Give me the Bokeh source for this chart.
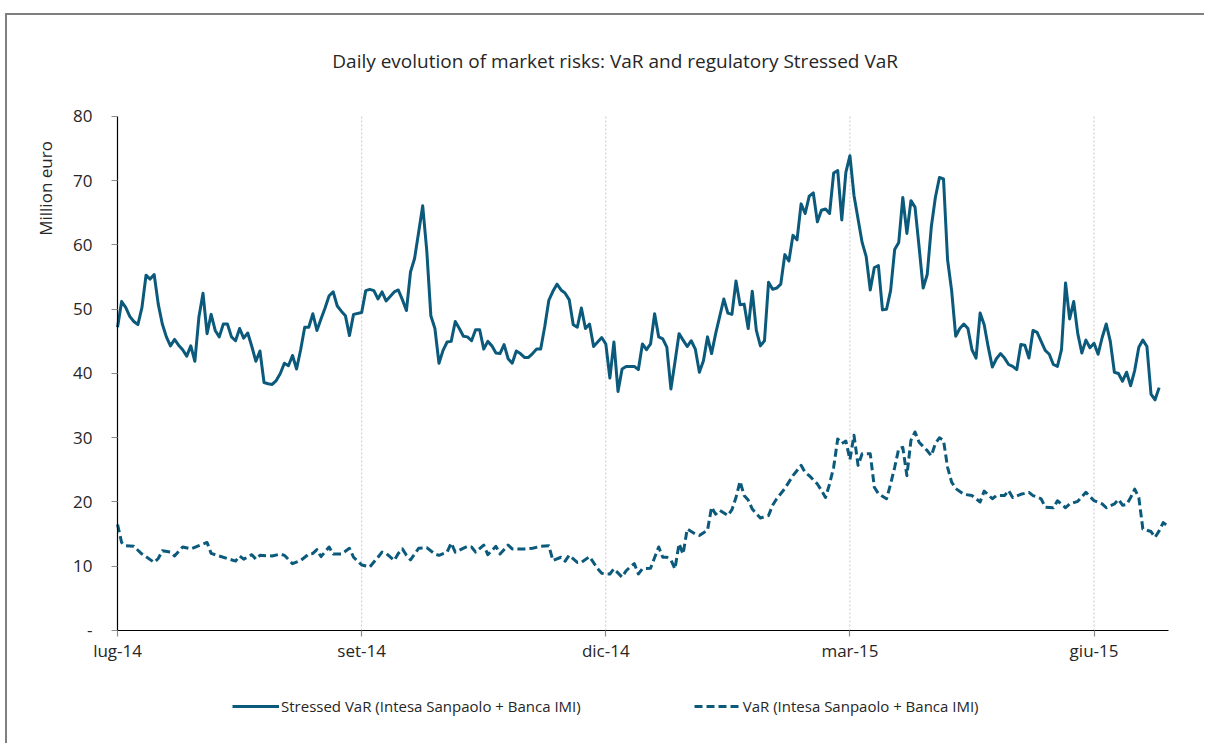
from math import pi
from bokeh.plotting import figure
from bokeh.models import FixedTicker, Legend, LegendItem, Label
from bokeh.embed import file_html
from bokeh.resources import INLINE

# ---- data (trading-day index, million euro) ----
stressed_day = (list(range(0, 59)) + list(range(60, 118)) +
                list(range(119, 182)) + list(range(183, 257)))
stressed_val = [
    47.2, 51.2, 50.3, 48.9, 48.1, 47.6, 50.3, 55.3, 54.7, 55.4,
    50.8, 47.7, 45.7, 44.3, 45.3, 44.4, 43.7, 42.7, 44.3, 41.9,
    48.8, 52.5, 46.2, 49.2, 46.7, 45.7, 47.7, 47.7, 45.7, 45.1,
    47.0, 45.5, 46.3, 44.2, 41.9, 43.5, 38.6, 38.4, 38.3, 38.9,
    40.0, 41.6, 41.2, 42.8, 40.7, 43.7, 47.2, 47.2, 49.3, 46.7,
    48.5, 50.2, 52.1, 52.7, 50.5, 49.7, 49.0, 45.9, 49.2,
    49.5, 52.9, 53.1, 52.9, 51.6, 52.7, 51.3, 52.0, 52.7, 53.0,
    51.5, 49.8, 55.8, 57.9, 62.0, 66.1, 59.1, 49.0, 47.0, 41.6,
    43.6, 44.9, 45.0, 48.1, 47.0, 45.8, 45.7, 45.1, 46.8, 46.8,
    43.8, 45.0, 44.3, 43.2, 43.1, 44.5, 42.3, 41.6, 43.5, 43.1,
    42.5, 42.5, 43.1, 43.8, 43.8, 47.3, 51.4, 52.8, 53.9, 53.0,
    52.5, 51.5, 47.6, 47.2, 50.2, 47.0, 47.7, 44.2,
    45.6, 44.6, 39.3, 44.9, 37.2, 40.7, 41.1, 41.1, 41.1, 40.6,
    44.6, 43.7, 44.6, 49.3, 45.7, 45.4, 44.1, 37.6, 41.8, 46.2,
    45.2, 44.2, 45.1, 43.8, 40.2, 42.0, 45.7, 43.1, 46.2, 48.9,
    51.6, 49.4, 49.2, 54.4, 50.7, 50.8, 47.0, 52.8, 46.7, 44.3,
    45.1, 54.2, 53.1, 53.3, 53.9, 58.5, 57.5, 61.5, 60.8, 66.4,
    64.9, 67.6, 68.1, 63.6, 65.4, 65.6, 64.9, 71.2, 71.6, 63.9,
    71.3, 73.9, 67.7,
    60.4, 58.2, 53.0, 56.5, 56.8, 49.9, 50.0, 52.9, 59.3, 60.4,
    67.4, 61.8, 66.9, 65.9, 59.7, 53.3, 55.4, 62.8, 67.4, 70.5,
    70.3, 57.7, 52.9, 45.8, 47.0, 47.7, 47.0, 43.7, 42.4, 49.4,
    47.6, 44.1, 41.0, 42.3, 43.1, 42.4, 41.4, 41.1, 40.6, 44.5,
    44.4, 42.4, 46.7, 46.4, 45.0, 43.6, 43.0, 41.4, 41.1, 43.7,
    54.1, 48.5, 51.2, 46.2, 43.2, 45.2, 44.0, 44.7, 43.0, 45.6,
    47.7, 45.0, 40.2, 40.0, 38.8, 40.2, 38.1, 40.5, 44.1, 45.2,
    44.2, 36.8, 35.9, 37.8,
]

var_day = [
    0, 1, 2, 4, 6, 9, 10, 11, 13, 14, 16, 18, 20, 22, 23, 25, 27, 29, 30, 31,
    33, 34, 35, 38, 40, 41, 43, 45, 47, 48, 49, 50, 52, 53, 55, 57, 58, 60, 62, 64,
    65, 66, 68, 69, 70, 71, 72, 73, 74, 76, 78, 79, 81, 82, 83, 84, 86, 87, 88, 90,
    91, 93, 94, 96, 97, 100, 102, 104, 106, 107, 109, 110, 111, 113, 114, 116, 118, 119, 120, 121,
    122, 124, 125, 126, 127, 128, 129, 131, 133, 134, 135, 136, 137, 138, 139, 140, 142, 143, 145, 146,
    147, 148, 150, 151, 152, 153, 154, 155, 156, 158, 160, 161, 162, 164, 166, 168, 169, 170, 172, 173,
    174, 175, 176, 177, 178, 179, 180, 181, 182, 183, 185, 186, 187, 189, 190, 191, 192, 193, 194, 195,
    196, 197, 199, 200, 201, 202, 203, 204, 205, 206, 208, 210, 212, 213, 215, 216, 218, 219, 220, 222,
    224, 225, 227, 228, 230, 231, 233, 234, 236, 238, 240, 242, 243, 245, 246, 247, 248, 249, 250, 251,
    252, 254, 255, 256, 257, 258,
]
var_val = [
    16.5, 13.7, 13.2, 13.1, 11.9, 10.6, 11.2, 12.4, 12.2, 11.6, 13.0, 12.7, 13.2, 13.7, 12.0, 11.6, 11.2, 10.8, 11.6, 11.1,
    11.8, 11.1, 11.7, 11.6, 11.9, 11.7, 10.4, 10.9, 11.9, 12.0, 12.6, 11.5, 13.0, 11.9, 11.9, 12.8, 11.4, 10.2, 9.9, 11.4,
    12.2, 12.0, 10.9, 12.0, 12.7, 11.7, 11.0, 11.9, 12.8, 12.9, 11.9, 11.7, 12.2, 13.6, 12.2, 12.5, 13.1, 13.0, 12.2, 13.3,
    11.8, 13.1, 11.9, 13.3, 12.7, 12.7, 12.8, 13.1, 13.2, 10.9, 11.4, 10.8, 11.7, 10.6, 10.6, 11.5, 9.6, 8.9, 8.8, 8.8,
    9.6, 8.3, 9.3, 9.9, 10.4, 8.8, 9.6, 9.7, 13.0, 11.4, 11.4, 11.0, 9.6, 13.5, 11.9, 15.8, 15.0, 14.8, 15.6, 19.2,
    18.1, 18.7, 17.9, 18.8, 20.7, 23.2, 21.0, 20.3, 18.9, 17.5, 17.9, 19.5, 20.5, 22.1, 24.1, 25.7, 24.6, 24.1, 22.8, 21.8,
    20.7, 22.8, 25.4, 29.8, 29.1, 29.5, 26.6, 30.4, 25.7, 27.5, 27.5, 22.3, 21.3, 20.5, 22.8, 25.4, 28.3, 28.5, 24.1, 29.6,
    30.9, 29.3, 28.0, 27.2, 29.1, 30.0, 29.6, 25.4, 23.1, 22.1, 21.2, 21.0, 20.0, 21.7, 20.5, 21.0, 21.0, 21.8, 20.7, 21.2,
    21.5, 21.0, 20.5, 19.2, 19.1, 20.2, 19.1, 19.7, 20.1, 21.5, 20.2, 19.7, 19.1, 19.7, 20.4, 19.5, 19.6, 20.7, 22.0, 20.7,
    15.8, 15.4, 14.5, 15.5, 16.8, 16.3,
]

tick_days = [0, 60, 120, 180, 240]
tick_labels = ["lug-14", "set-14", "dic-14", "mar-15", "giu-15"]
y_ticks = [0, 10, 20, 30, 40, 50, 60, 70, 80]
y_labels = ["-", "10", "20", "30", "40", "50", "60", "70", "80"]
last_day = 258.3

TITLE = "Daily evolution of market risks: VaR and regulatory Stressed VaR"
Y_LABEL = "Million euro"
S_NAME = "Stressed VaR (Intesa Sanpaolo + Banca IMI)"
V_NAME = "VaR (Intesa Sanpaolo + Banca IMI)"

COLOR = "#0b5a7c"
FONT = "Open Sans"
TXT = "#262626"

# frame covers the whole figure; axes are pinned at 0 inside it
p = figure(width=1199, height=730, output_backend="svg", toolbar_location=None,
           x_range=(-27.05, 267.64), y_range=(-17.9, 95.72),
           min_border_left=0, min_border_right=0,
           min_border_top=0, min_border_bottom=0)
p.styles = {"border-top": "2px solid #7f7f7f", "border-left": "2px solid #7f7f7f",
            "margin-left": "5px", "margin-top": "13px"}
p.outline_line_color = None
p.background_fill_color = "white"
p.border_fill_color = "white"
p.title.text = ""
p.title.visible = False

# axes
p.yaxis.ticker = FixedTicker(ticks=y_ticks)
p.yaxis.major_label_overrides = {t: l for t, l in zip(y_ticks, y_labels)}
p.xaxis.ticker = FixedTicker(ticks=tick_days)
p.xaxis.major_label_overrides = {t: l for t, l in zip(tick_days, tick_labels)}
p.yaxis.fixed_location = 0
p.xaxis.fixed_location = 0
p.yaxis.bounds = (y_ticks[0], y_ticks[-1])
p.xaxis.bounds = (0, last_day)
for ax in (p.xaxis[0], p.yaxis[0]):
    ax.axis_line_color = "black"
    ax.axis_line_width = 1.2
    ax.major_tick_line_color = "#8c8c8c"
    ax.major_tick_line_width = 1.2
    ax.major_tick_in = 0
    ax.major_tick_out = 6
    ax.minor_tick_line_color = None
    ax.major_label_text_font = FONT
    ax.major_label_text_font_size = "17px"
    ax.major_label_text_color = TXT
p.yaxis.major_label_standoff = 19
p.xaxis.major_label_standoff = 3

p.xgrid.grid_line_color = None
p.ygrid.grid_line_color = None
grid_days = tick_days[1:]
p.segment(x0=grid_days, y0=[y_ticks[0]] * len(grid_days),
          x1=grid_days, y1=[y_ticks[-1]] * len(grid_days),
          line_color="#c8c8c8", line_width=1, line_dash="2 2", level="underlay")

r1 = p.line(stressed_day, stressed_val, line_color=COLOR, line_width=3,
            line_join="round")
r2 = p.line(var_day, var_val, line_color=COLOR, line_width=3,
            line_dash="8 4", line_join="round")

p.add_layout(Label(x=122.3, y=88.6, text=TITLE,
                   text_align="center", text_baseline="middle",
                   text_font=FONT, text_font_size="19px", text_color=TXT))
p.add_layout(Label(x=-17.6, y=68.8, text=Y_LABEL, angle=pi / 2,
                   text_align="center", text_baseline="middle",
                   text_font=FONT, text_font_size="17px", text_color=TXT))

legend = Legend(items=[LegendItem(label=S_NAME, renderers=[r1]),
                       LegendItem(label=V_NAME, renderers=[r2])],
                orientation="horizontal", location=(225, 29),
                border_line_color=None, background_fill_alpha=0,
                glyph_width=47, label_standoff=2, spacing=113, padding=0,
                margin=0, label_text_font=FONT, label_text_font_size="15px",
                label_text_color=TXT)
p.add_layout(legend, "center")

open("out.html", "w").write(file_html(p, INLINE))
